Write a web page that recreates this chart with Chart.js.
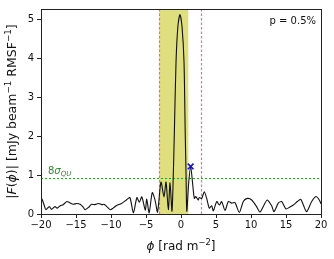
<!DOCTYPE html>
<html>
<head>
<meta charset="utf-8">
<script src="https://cdn.jsdelivr.net/npm/chart.js@4"></script>
<style>
  html, body { margin: 0; padding: 0; background: #fff; }
  #wrap { width: 334px; height: 259px; }
</style>
</head>
<body>
<div id="wrap"><canvas id="fdf" width="334" height="259"></canvas></div>
<script>
// Faraday depth (rad m^-2) and |F(phi)|
const phi = [-20.0, -19.8, -19.5, -19.3, -18.8, -18.5, -18.0, -17.7, -17.2, -16.9,
  -16.3, -15.9, -15.4, -14.9, -14.4, -14.0, -13.7, -13.2, -12.8, -12.3,
  -11.8, -11.3, -11.0, -10.6, -10.1, -9.7, -9.2, -8.5, -7.8, -7.3,
  -6.8, -6.3, -5.95, -5.6, -5.1, -4.9, -4.55, -4.1, -3.7, -3.35,
  -2.86, -2.43, -2.14, -1.81, -1.57, -1.29, -1.1, -0.95, -0.71, -0.45,
  -0.15, 0.15, 0.43, 0.6, 0.72, 0.83, 1.1, 1.38, 1.65, 1.9,
  2.1, 2.45, 2.6, 2.95, 3.33, 3.67, 4.05, 4.38, 4.62, 5.1,
  5.48, 5.81, 6.29, 6.76, 7.24, 7.71, 8.33, 8.9, 9.48, 10.1,
  10.8, 11.29, 11.86, 12.33, 12.95, 13.29, 13.9, 14.38, 15.0, 15.57,
  16.05, 16.62, 17.1, 17.48, 17.95, 18.67, 19.29, 19.76, 20.0];
const amp = [0.42, 0.36, 0.20, 0.11, 0.19, 0.12, 0.19, 0.15, 0.22, 0.23,
  0.32, 0.29, 0.25, 0.27, 0.25, 0.18, 0.11, 0.17, 0.25, 0.24,
  0.27, 0.24, 0.25, 0.19, 0.11, 0.15, 0.22, 0.27, 0.36, 0.42,
  0.03, 0.42, 0.30, 0.44, 0.10, 0.38, 0.03, 0.55, 0.35, 0.05,
  0.82, 0.44, 0.82, 0.11, 0.80, 0.07, 1.0, 2.1, 3.9, 4.8,
  5.12, 4.8, 3.9, 2.1, 1.0, 0.07, 0.8, 1.22, 0.8, 0.40,
  0.45, 0.36, 0.42, 0.40, 0.57, 0.40, 0.15, 0.21, 0.08, 0.32,
  0.23, 0.32, 0.09, 0.32, 0.28, 0.29, 0.04, 0.32, 0.40, 0.36,
  0.19, 0.05, 0.23, 0.36, 0.21, 0.06, 0.28, 0.32, 0.13, 0.18,
  0.23, 0.32, 0.38, 0.23, 0.06, 0.32, 0.45, 0.36, 0.26];

const peakPhi = [1.38];
const peakAmp = [1.22];
const shadeRange = [-3.1, 1.05];
const redLines = [-3.1, 2.8];
const threshold = 0.92;
const xTicks = [-20, -15, -10, -5, 0, 5, 10, 15, 20];
const yTicks = [0, 1, 2, 3, 4, 5];

const FONT = "'DejaVu Sans', sans-serif";

function fmtTick(v) {
  return v < 0 ? "\u2212" + Math.abs(v) : String(v);
}

// text runs: [text, style] where style may hold 'italic', 'sup', 'sub'
function drawRich(ctx, parts, x, y, size) {
  let cx = x;
  parts.forEach(([t, st]) => {
    let s = size, dy = 0, it = "";
    if (st.includes("sup")) { s = size * 0.7; dy = -size * 0.4; }
    if (st.includes("sub")) { s = size * 0.7; dy = size * 0.25; }
    if (st.includes("italic")) it = "italic ";
    ctx.font = it + s + "px " + FONT;
    ctx.fillText(t, cx, y + dy);
    cx += ctx.measureText(t).width;
  });
  return cx - x;
}

function richWidth(ctx, parts, size) {
  let w = 0;
  parts.forEach(([t, st]) => {
    let s = size;
    if (st.includes("sup") || st.includes("sub")) s = size * 0.7;
    ctx.font = (st.includes("italic") ? "italic " : "") + s + "px " + FONT;
    w += ctx.measureText(t).width;
  });
  return w;
}

const decor = {
  id: "decor",
  beforeDatasetsDraw(chart) {
    const { ctx, chartArea: a, scales: { x, y } } = chart;
    ctx.save();
    // shaded band
    ctx.fillStyle = "rgba(191, 191, 0, 0.5)";
    const x0 = x.getPixelForValue(shadeRange[0]);
    const x1 = x.getPixelForValue(shadeRange[1]);
    ctx.fillRect(x0, a.top, x1 - x0, a.bottom - a.top);

    ctx.lineWidth = 1.2;
    ctx.setLineDash([2.5, 2]);
    ctx.strokeStyle = "#ff6a6a";
    redLines.forEach((v) => {
      const px = Math.round(x.getPixelForValue(v)) + 0.5;
      ctx.beginPath();
      ctx.moveTo(px, a.top);
      ctx.lineTo(px, a.bottom);
      ctx.stroke();
    });

    ctx.lineWidth = 1;
    ctx.setLineDash([2, 2]);
    ctx.strokeStyle = "#2e9a2e";
    const py = Math.round(y.getPixelForValue(threshold)) + 0.5;
    ctx.beginPath();
    ctx.moveTo(a.left, py);
    ctx.lineTo(a.right, py);
    ctx.stroke();
    ctx.setLineDash([]);

    // threshold label
    ctx.fillStyle = "#2a8a2a";
    ctx.textBaseline = "alphabetic";
    ctx.textAlign = "left";
    drawRich(ctx, [["8", ""], ["\u03c3", "italic"], ["QU", "italic sub"]], a.left + 7, py - 5, 10);
    ctx.restore();
  },
  afterDraw(chart) {
    const { ctx, chartArea: a } = chart;
    ctx.save();
    ctx.strokeStyle = "#222";
    ctx.lineWidth = 1;
    ctx.strokeRect(Math.round(a.left) + 0.5, Math.round(a.top) + 0.5,
      Math.round(a.right - a.left), Math.round(a.bottom - a.top));

    ctx.fillStyle = "#111";
    ctx.textBaseline = "alphabetic";
    ctx.textAlign = "left";
    ctx.font = "10px " + FONT;
    const pt = "p = 0.5%";
    ctx.fillText(pt, a.right - 5 - ctx.measureText(pt).width, a.top + 15);

    // x label
    const xl = [["\u03d5", "italic"], [" [rad m", ""], ["\u22122", "sup"], ["]", ""]];
    const xw = richWidth(ctx, xl, 12);
    drawRich(ctx, xl, (a.left + a.right) / 2 - xw / 2, 250, 12);

    // y label
    const yl = [["|", ""], ["F", "italic"], ["(", ""], ["\u03d5", "italic"], [")| [mJy beam", ""],
      ["\u22121", "sup"], [" RMSF", ""], ["\u22121", "sup"], ["]", ""]];
    const yw = richWidth(ctx, yl, 12.5);
    ctx.translate(16, (a.top + a.bottom) / 2);
    ctx.rotate(-Math.PI / 2);
    drawRich(ctx, yl, -yw / 2, 0, 12.5);
    ctx.restore();
  },
};

new Chart(document.getElementById("fdf"), {
  type: "scatter",
  data: {
    datasets: [
      {
        label: "FDF",
        data: phi.map((p, i) => ({ x: p, y: amp[i] })),
        showLine: true,
        borderColor: "#111",
        borderWidth: 1.1,
        pointRadius: 0,
        tension: 0.25,
        order: 2,
      },
      {
        label: "peak",
        data: peakPhi.map((p, i) => ({ x: p, y: peakAmp[i] })),
        pointStyle: "crossRot",
        pointRadius: 4,
        borderColor: "#1010ee",
        borderWidth: 1.6,
        order: 1,
      },
    ],
  },
  options: {
    responsive: false,
    animation: false,
    events: [],
    layout: { padding: { top: 5, right: 13, left: 0, bottom: 0 } },
    plugins: { legend: { display: false }, tooltip: { enabled: false } },
    scales: {
      x: {
        type: "linear",
        min: -20,
        max: 20,
        afterBuildTicks: (s) => { s.ticks = xTicks.map((v) => ({ value: v })); },
        afterFit: (s) => { s.height = 45; },
        ticks: { color: "#111", font: { family: FONT, size: 10 }, padding: 1, callback: fmtTick, maxRotation: 0 },
        grid: { drawOnChartArea: false, drawTicks: true, tickLength: 4, color: "#222" },
        border: { display: false },
      },
      y: {
        type: "linear",
        min: 0,
        max: 5.26,
        afterBuildTicks: (s) => { s.ticks = yTicks.map((v) => ({ value: v })); },
        afterFit: (s) => { s.width = 41; },
        ticks: { color: "#111", font: { family: FONT, size: 10 }, padding: 3, callback: fmtTick },
        grid: { drawOnChartArea: false, drawTicks: true, tickLength: 4, color: "#222" },
        border: { display: false },
      },
    },
  },
  plugins: [decor],
});
</script>
</body>
</html>
